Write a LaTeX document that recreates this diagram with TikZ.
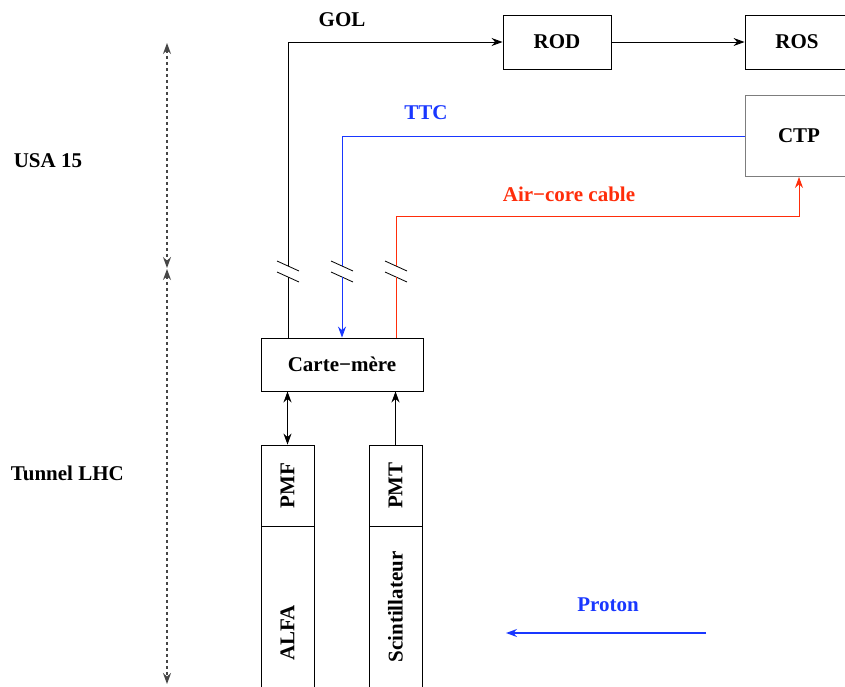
\documentclass[tikz,border=0pt]{standalone}
\usepackage{fontspec}
\setmainfont{Liberation Serif}
\usetikzlibrary{arrows.meta}
\definecolor{ttcblue}{RGB}{25,55,255}
\definecolor{cablered}{RGB}{255,45,10}
\definecolor{boxgray}{RGB}{125,125,125}
\definecolor{zonegray}{RGB}{70,70,70}

\tikzset{
  box/.style={draw, rectangle, inner sep=0pt, line width=0.9pt},
  tip/.style={-{Stealth[length=11pt,width=8pt]}},
  dtip/.style={{Stealth[length=11pt,width=8pt]}-{Stealth[length=11pt,width=8pt]}},
  zone/.style={dtip, draw=zonegray, line width=1.1pt, dash pattern=on 3pt off 3pt},
  brk/.style={line width=0.8pt},
}

\begin{document}
\begin{tikzpicture}[x=1pt, y=-1pt, line width=0.9pt,
    every node/.style={font=\fontsize{21}{25}\selectfont\bfseries}]
    \useasboundingbox (0,0) rectangle (845,686);
    \clip (0,0) rectangle (845,686);

    % Zones
    \node[anchor=west] (usa) at (10,161) {USA 15};
    \node[anchor=west] (tunnel) at (7,473) {Tunnel LHC};
    \coordinate (usatop) at (167,43);
    \coordinate (usabot) at (167,268);
    \coordinate (lhctop) at (167,269);
    \coordinate (lhcbot) at (167,684);
    \draw[zone] (usatop) -- (usabot);
    \draw[zone] (lhctop) -- (lhcbot);

    % Counting room
    \node[box, minimum width=108, minimum height=54] (rod) at (557,42) {ROD};
    \node[box, minimum width=104, minimum height=54] (ros) at (797,42) {ROS};
    \node[box, draw=boxgray, minimum width=108, minimum height=81] (ctp) at (799,136) {CTP};

    % Tunnel
    \node[box, minimum width=162, minimum height=53] (carte) at (342,364.5) {Carte−mère};
    \node[box, minimum width=53, minimum height=81] (pmf) at (287.5,485.5) {\rotatebox{90}{PMF}};
    \node[box, minimum width=53, minimum height=214] (alfa) at (287.5,633) {\rotatebox{90}{ALFA}};
    \node[box, minimum width=53, minimum height=81] (pmt) at (395.5,485.5) {\rotatebox{90}{PMT}};
    \node[box, minimum width=53, minimum height=162] (scint) at (395.5,607) {\rotatebox{90}{Scintillateur}};

    % Break points
    \coordinate (gol1) at (288,277);
    \coordinate (gol2) at (288,266);
    \coordinate (ttc1) at (342,266);
    \coordinate (ttc2) at (342,277);
    \coordinate (air1) at (396,277);
    \coordinate (air2) at (396,266);
    \coordinate (air3) at (396,216);
    \foreach \xx in {288,342,396} {
        \draw[brk] (\xx-11,261) -- (\xx+11,271);
        \draw[brk] (\xx-11,272) -- (\xx+11,282);
    }

    % GOL
    \draw (carte.north -| gol1) -- (gol1);
    \draw[tip] (gol2) |- (rod.west);
    \node (gol) at (342,20) {GOL};
    \draw[tip] (rod) -- (ros);

    % TTC
    \draw[ttcblue] (ctp.west) -| (ttc1);
    \draw[ttcblue, tip] (ttc2) -- (carte.north -| ttc2);
    \node[text=ttcblue] (ttc) at (426,113) {TTC};

    % Air-core cable
    \draw[cablered] (carte.north -| air1) -- (air1);
    \draw[cablered, tip] (air2) -- (air3) -| (ctp.south);
    \node[text=cablered] (air) at (569,194) {Air−core cable};

    % Readout
    \draw[dtip] (carte.south -| pmf) -- (pmf.north);
    \draw[tip] (pmt.north) -- (carte.south -| pmt);

    % Beam
    \coordinate (pstart) at (706,633);
    \coordinate (pend) at (506,633);
    \draw[ttcblue, tip, line width=1.6pt] (pstart) -- (pend);
    \node[text=ttcblue] (proton) at (608,605) {Proton};
\end{tikzpicture}
\end{document}
